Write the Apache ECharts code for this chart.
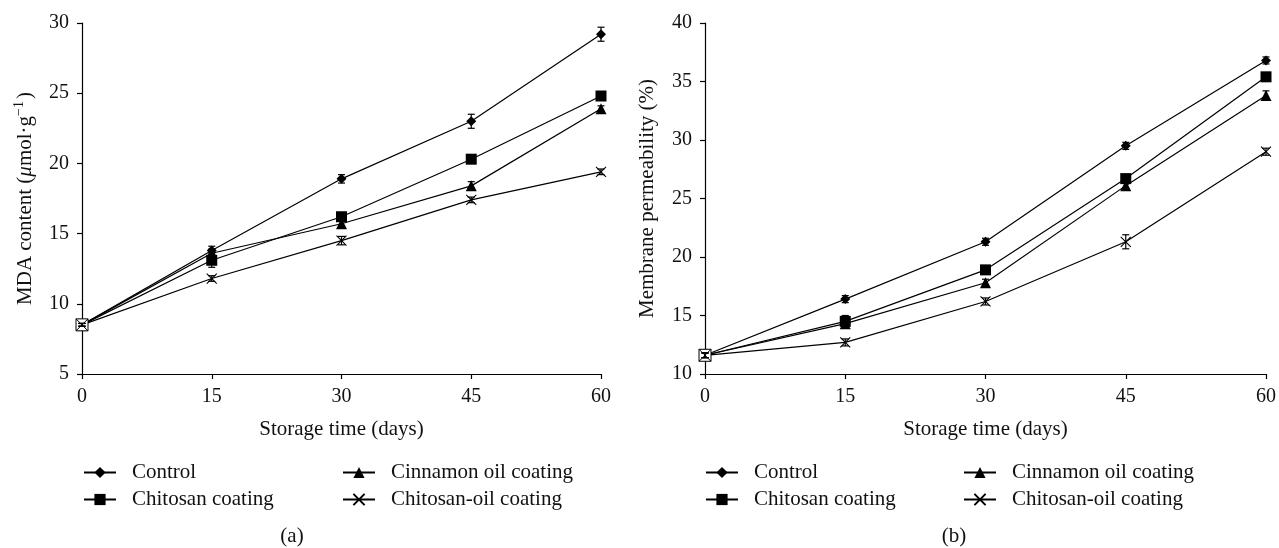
<!DOCTYPE html>
<html><head><meta charset="utf-8">
<script src="https://cdn.jsdelivr.net/npm/echarts@6/dist/echarts.min.js"></script>
<style>html,body{margin:0;padding:0;background:#fff}#c{width:1279px;height:548px}</style>
</head><body><div id="c"></div>
<script>
const days = [0, 15, 30, 45, 60];
const seriesNames = ['Control', 'Chitosan coating', 'Cinnamon oil coating', 'Chitosan-oil coating'];
// (a) MDA content
const mdaControl = [8.5, 13.8, 18.9, 23.0, 29.2];
const mdaChitosan = [8.5, 13.1, 16.2, 20.3, 24.8];
const mdaCinnamon = [8.5, 13.6, 15.7, 18.4, 23.9];
const mdaChitosanOil = [8.5, 11.8, 14.5, 17.4, 19.4];
const mdaControlErr = [0.1, 0.3, 0.3, 0.5, 0.5];
const mdaChitosanErr = [0.1, 0.5, 0.3, 0.3, 0.2];
const mdaCinnamonErr = [0.1, 0.3, 0.2, 0.3, 0.2];
const mdaChitosanOilErr = [0.1, 0.2, 0.3, 0.2, 0.2];
// (b) Membrane permeability
const mpControl = [11.6, 16.4, 21.3, 29.5, 36.8];
const mpChitosan = [11.6, 14.5, 18.9, 26.7, 35.4];
const mpCinnamon = [11.6, 14.3, 17.8, 26.1, 33.8];
const mpChitosanOil = [11.6, 12.7, 16.2, 21.3, 29.0];
const mpControlErr = [0.2, 0.3, 0.3, 0.3, 0.3];
const mpChitosanErr = [0.2, 0.5, 0.3, 0.3, 0.3];
const mpCinnamonErr = [0.2, 0.4, 0.3, 0.3, 0.4];
const mpChitosanOilErr = [0.2, 0.3, 0.3, 0.6, 0.3];
const xTicks = [0, 15, 30, 45, 60];
const mdaTicks = [5, 10, 15, 20, 25, 30];
const mpTicks = [10, 15, 20, 25, 30, 35, 40];

const FONT = '"Liberation Serif", "DejaVu Serif", serif';
const symbols = ['diamond', 'rect', 'triangle', 'path://M0,0L10,10M10,0L0,10'];
const boxedX = 'path://M0,0H10V10H0ZM0,0L10,10M10,0L0,10';
const sizes = [10, 11, 11, 10];

function errPairs(v, e) { return days.map((d, i) => [d, v[i], e[i]]); }

function lineSeries(name, vals, k, idx) {
  const isX = k === 3;
  const data = days.map((d, i) => {
    if (isX && i === 0) {
      return { value: [d, vals[i]], symbol: boxedX, symbolSize: 12, itemStyle: { color: '#fff', borderColor: '#000', borderWidth: 1 } };
    }
    return [d, vals[i]];
  });
  return {
    type: 'line', name: name, xAxisIndex: idx, yAxisIndex: idx,
    data: data, symbol: symbols[k], symbolSize: sizes[k],
    lineStyle: { color: '#000', width: 1.2 },
    itemStyle: isX ? { color: 'rgba(0,0,0,0)', borderColor: '#000', borderWidth: 1.1 } : { color: '#000', borderWidth: 0 },
    emphasis: { disabled: true }, z: 3 + k, animation: false
  };
}
function errSeries(vals, errs, idx) {
  return {
    type: 'custom', xAxisIndex: idx, yAxisIndex: idx, data: errPairs(vals, errs), z: 10, silent: true,
    renderItem: function (params, api) {
      const x = api.value(0), y = api.value(1), e = api.value(2);
      const t = api.coord([x, y + e]), b = api.coord([x, y - e]);
      const w = 3.5;
      const st = { stroke: '#000', lineWidth: 1.2 };
      return { type: 'group', children: [
        { type: 'line', shape: { x1: t[0], y1: t[1], x2: b[0], y2: b[1] }, style: st },
        { type: 'line', shape: { x1: t[0] - w, y1: t[1], x2: t[0] + w, y2: t[1] }, style: st },
        { type: 'line', shape: { x1: b[0] - w, y1: b[1], x2: b[0] + w, y2: b[1] }, style: st }
      ] };
    }, animation: false
  };
}

function xAxis(idx) {
  return {
    type: 'value', gridIndex: idx, min: xTicks[0], max: xTicks[xTicks.length - 1], interval: 15,
    name: 'Storage time (days)', nameLocation: 'middle', nameGap: 45,
    nameTextStyle: { fontFamily: FONT, fontSize: 21, color: '#111' },
    axisLine: { lineStyle: { color: '#000', width: 1.2 } },
    axisTick: { show: true, length: 5, lineStyle: { color: '#000', width: 1.2 } },
    axisLabel: { fontFamily: FONT, fontSize: 20, color: '#111', margin: 13 },
    splitLine: { show: false }
  };
}
function yAxis(idx, ticks, name, gap) {
  return {
    type: 'value', gridIndex: idx, min: ticks[0], max: ticks[ticks.length - 1], interval: 5,
    name: name, nameLocation: 'middle', nameGap: gap, nameRotate: 90,
    nameTextStyle: { fontFamily: FONT, fontSize: 21, color: '#111',
      rich: {
        t: { fontFamily: FONT, fontSize: 21, color: '#111', lineHeight: 26 },
        i: { fontFamily: FONT, fontSize: 21, color: '#111', fontStyle: 'italic', lineHeight: 26 },
        s: { fontFamily: FONT, fontSize: 14, color: '#111', verticalAlign: 'top', lineHeight: 26, padding: [0, 2, 10, 0] }
      } },
    axisLine: { show: true, lineStyle: { color: '#000', width: 1.2 } },
    axisTick: { show: true, length: 5, lineStyle: { color: '#000', width: 1.2 } },
    axisLabel: { fontFamily: FONT, fontSize: 20, color: '#111', margin: 13 },
    splitLine: { show: false }
  };
}

function legend(left, top, names) {
  return {
    left: left, top: top, orient: 'vertical', data: names, itemGap: 6, itemWidth: 32, itemHeight: 14, padding: 0,
    textStyle: { fontFamily: FONT, fontSize: 21, color: '#111', lineHeight: 20, padding: [0, 0, 0, 11] }, selectedMode: false
  };
}

const chart = echarts.init(document.getElementById('c'), null, { renderer: 'canvas' });
const series = [];
const mdaVals = [mdaControl, mdaChitosan, mdaCinnamon, mdaChitosanOil];
const mdaErrs = [mdaControlErr, mdaChitosanErr, mdaCinnamonErr, mdaChitosanOilErr];
const mpVals = [mpControl, mpChitosan, mpCinnamon, mpChitosanOil];
const mpErrs = [mpControlErr, mpChitosanErr, mpCinnamonErr, mpChitosanOilErr];
seriesNames.forEach((n, k) => { series.push(lineSeries(n, mdaVals[k], k, 0)); series.push(errSeries(mdaVals[k], mdaErrs[k], 0)); });
seriesNames.forEach((n, k) => { series.push(lineSeries(n, mpVals[k], k, 1)); series.push(errSeries(mpVals[k], mpErrs[k], 1)); });

chart.setOption({
  backgroundColor: '#fff',
  animation: false,
  grid: [
    { left: 82, right: 678, top: 23, bottom: 174 },
    { left: 705, right: 12, top: 23, bottom: 174 }
  ],
  xAxis: [xAxis(0), xAxis(1)],
  yAxis: [
    yAxis(0, mdaTicks, '{t|MDA content (}{i|μ}{t|mol·g}{s|−1}{t|)}', 44),
    yAxis(1, mpTicks, 'Membrane permeability (%)', 47)
  ],
  legend: [
    legend(83, 462, ['Control', 'Chitosan coating']),
    legend(342, 462, ['Cinnamon oil coating', 'Chitosan-oil coating']),
    legend(705, 462, ['Control', 'Chitosan coating']),
    legend(963, 462, ['Cinnamon oil coating', 'Chitosan-oil coating'])
  ],
  graphic: [
    { type: 'text', x: 292, y: 536, style: { text: '(a)', font: '21px ' + FONT, fill: '#111', align: 'center', verticalAlign: 'middle' } },
    { type: 'text', x: 954, y: 536, style: { text: '(b)', font: '21px ' + FONT, fill: '#111', align: 'center', verticalAlign: 'middle' } }
  ],
  series: series
});
</script></body></html>
